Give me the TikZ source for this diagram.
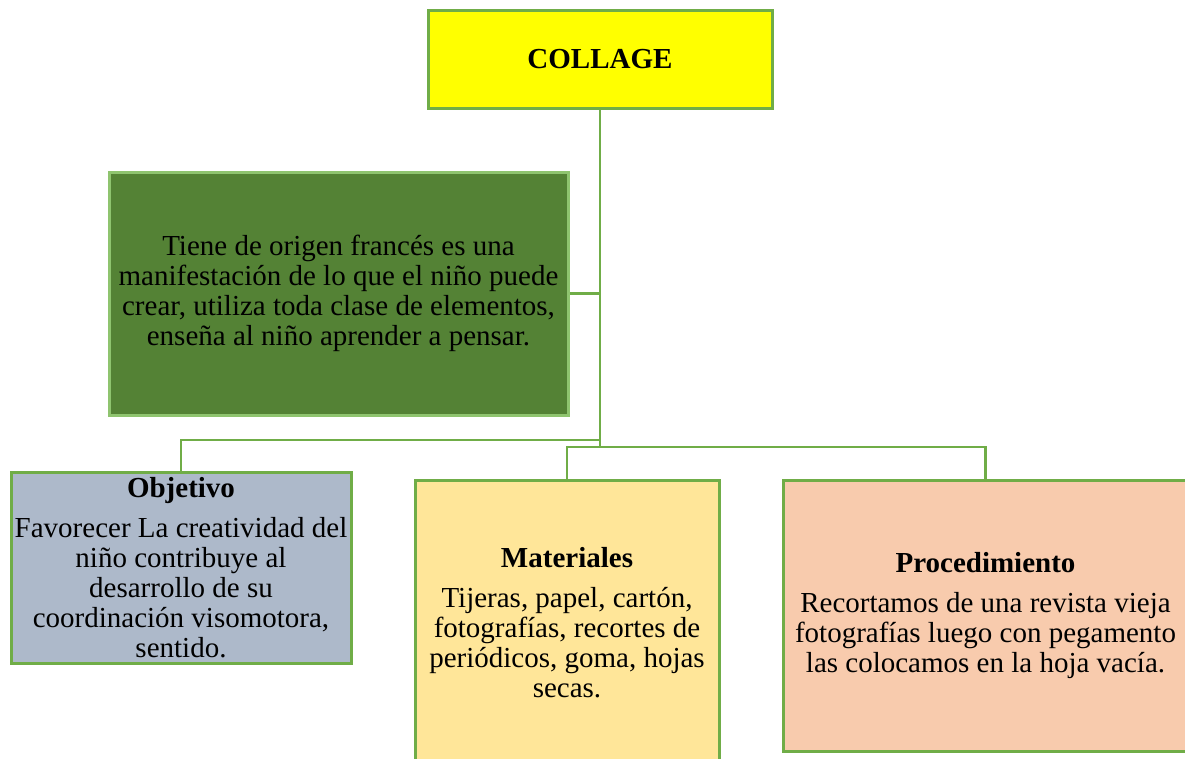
\documentclass[tikz,border=0pt]{standalone}
\usepackage{fontspec}
\setmainfont{Liberation Serif}

\definecolor{linegreen}{HTML}{70AD47}
\definecolor{lightgreen}{HTML}{8FC46F}
\definecolor{titleyellow}{HTML}{FFFF00}
\definecolor{darkgreen}{HTML}{548235}
\definecolor{bluegrey}{HTML}{ADB9CA}
\definecolor{paleyellow}{HTML}{FFE699}
\definecolor{peach}{HTML}{F8CBAD}

\tikzset{every picture/.style={line width=0.75pt}}
\tikzset{
  box/.style={draw=linegreen, line width=2.25pt, inner sep=0pt, align=center,
    font=\fontsize{21.75pt}{22.5pt}\selectfont},
  link/.style={draw=linegreen, line width=2pt}
}

\begin{document}
\begin{tikzpicture}[x=0.75pt,y=0.75pt,yscale=-1,xscale=1]
    \useasboundingbox (0,0) rectangle (1185,758);
    \clip (0,0) rectangle (1185,758);

    % Title Node
    \node [box, fill=titleyellow, minimum width=258pt, minimum height=73.5pt] (collage) at (600,59) {\bfseries COLLAGE};
    % Text Node
    \node [box, draw=lightgreen, fill=darkgreen, minimum width=344.25pt, minimum height=182.25pt] (tiene) at (338.5,293.5) {Tiene de origen francés es una\\manifestación de lo que el niño puede\\crear, utiliza toda clase de elementos,\\enseña al niño aprender a pensar.};
    % Text Node
    \node [box, fill=bluegrey, minimum width=255pt, minimum height=143.25pt] (objetivo) at (181,567.5) {\bfseries Objetivo\\[7.5pt]Favorecer La creatividad del\\niño contribuye al\\desarrollo de su\\coordinación visomotora,\\sentido.};
    % Text Node
    \node [box, fill=paleyellow, minimum width=228pt, minimum height=214.5pt] (materiales) at (567,623) {\bfseries Materiales\\[7.5pt]Tijeras, papel, cartón,\\fotografías, recortes de\\periódicos, goma, hojas\\secas.};
    % Text Node
    \node [box, fill=peach, minimum width=303.75pt, minimum height=203.25pt] (procedimiento) at (985.5,615.5) {\bfseries Procedimiento\\[7.5pt]Recortamos de una revista vieja\\fotografías luego con pegamento\\las colocamos en la hoja vacía.};

    \coordinate (hubA) at (600,440);
    \coordinate (hubB) at (600,447);

    %Straight Lines
    \draw [link] (collage.south) -- (hubB);
    \draw [link] (tiene.east) -- (tiene.east -| collage.south);
    \draw [link] (hubA) -| (objetivo.north);
    \draw [link] (hubB) -| (materiales.north);
    \draw [link] (hubB) -| (procedimiento.north);

\end{tikzpicture}
\end{document}
